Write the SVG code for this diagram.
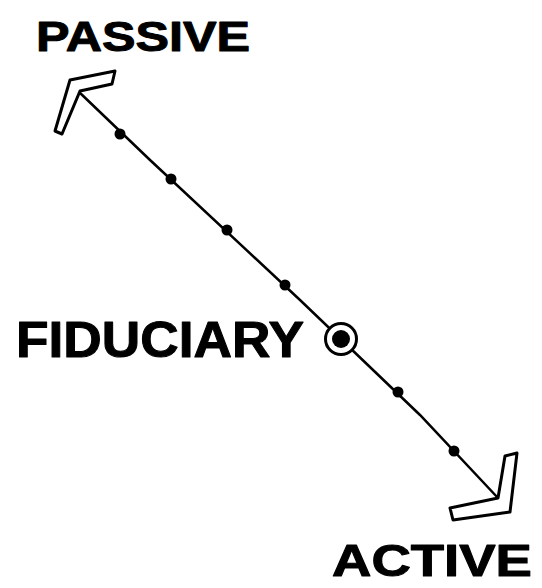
<svg xmlns="http://www.w3.org/2000/svg" width="542" height="588" viewBox="0 0 542 588">
<style>
.lbl{font-family:"Liberation Sans",Arial,sans-serif;font-weight:bold;fill:#000;stroke:#000;stroke-width:1;stroke-linejoin:round}
.chev{fill:#fff;stroke:#000;stroke-width:3;stroke-linejoin:round}
.dot{fill:#000}
</style>
<rect width="542" height="588" fill="#fff"/>
<g id="connectors">
<path d="M78 91 L150 160 L300 300 L420 415 L498 498" fill="none" stroke="#000" stroke-width="2.5"/>
</g>
<g id="passive-arrow"><polygon class="chev" points="70,80 115,71 112,84 80,91 62,134 55,131"/></g>
<g id="active-arrow"><polygon class="chev" points="505,456 517,453 510,512 453,520 450,508 498,498"/></g>
<g id="ticks">
<circle class="dot" cx="120" cy="134" r="5.5"/>
<circle class="dot" cx="171" cy="179" r="5.5"/>
<circle class="dot" cx="227" cy="230" r="5.5"/>
<circle class="dot" cx="285" cy="285" r="5.5"/>
<circle class="dot" cx="398" cy="392" r="5.5"/>
<circle class="dot" cx="454" cy="451" r="5.5"/>
</g>
<g id="fiducial">
<circle cx="341" cy="339" r="15.5" fill="#fff" stroke="#000" stroke-width="3"/>
<circle cx="341" cy="339" r="9" fill="#000"/>
</g>
<g id="labels">
<text class="lbl" x="36" y="51" font-size="42" textLength="214" lengthAdjust="spacingAndGlyphs">PASSIVE</text>
<text class="lbl" x="16" y="357" font-size="50" textLength="288" lengthAdjust="spacingAndGlyphs">FIDUCIARY</text>
<text class="lbl" x="332" y="576" font-size="44" textLength="200" lengthAdjust="spacingAndGlyphs">ACTIVE</text>
</g>
</svg>
